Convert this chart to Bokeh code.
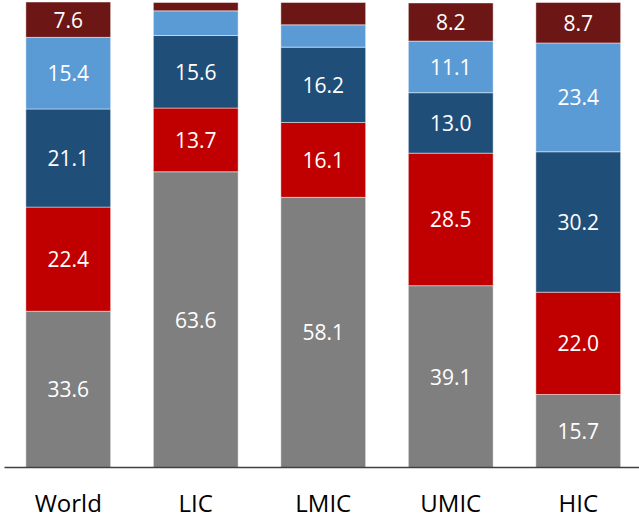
from bokeh.plotting import figure
from bokeh.models import ColumnDataSource, Range1d, FixedTicker, LabelSet
from bokeh.core.properties import value
from bokeh.embed import file_html
from bokeh.resources import INLINE

categories = ["World", "LIC", "LMIC", "UMIC", "HIC"]
seg1 = [33.6, 63.6, 58.1, 39.1, 15.7]   # gray
seg2 = [22.4, 13.7, 16.1, 28.5, 22.0]   # red
seg3 = [21.1, 15.6, 16.2, 13.0, 30.2]   # dark blue
seg4 = [15.4, 5.3, 4.8, 11.1, 23.4]     # light blue
seg5 = [7.6, 1.8, 4.8, 8.2, 8.7]        # dark red
colors = ["#7F7F7F", "#C00000", "#1F4E79", "#5B9BD5", "#6D1616"]
names = ["s1", "s2", "s3", "s4", "s5"]
series = [seg1, seg2, seg3, seg4, seg5]

xs = list(range(len(categories)))
data = {"x": xs}
for n, s in zip(names, series):
    data[n] = s
source = ColumnDataSource(data)

p = figure(width=639, height=524, output_backend="svg", toolbar_location=None,
           x_range=Range1d(-0.5, 4.4804), y_range=Range1d(0, 100.43),
           min_border_left=4, min_border_right=0, min_border_top=0, min_border_bottom=57)
p.vbar_stack(names, x="x", width=0.665, color=colors, source=source,
             line_color="white", line_alpha=0.45, line_width=1)

# labels
lx, ly, lt = [], [], []
for i in xs:
    base = 0.0
    for s in series:
        v = s[i]
        if v >= 6:
            lx.append(i)
            ly.append(base + v / 2)
            lt.append(f"{v:.1f}")
        base += v
lsrc = ColumnDataSource({"x": lx, "y": ly, "t": lt})
p.add_layout(LabelSet(x="x", y="y", text="t", source=lsrc, text_color="white",
                      text_font=value("Open Sans"), text_font_size="21px",
                      text_align="center", text_baseline="middle"))

p.yaxis.visible = False
p.grid.visible = False
p.outline_line_color = None
p.background_fill_color = "white"
p.border_fill_color = "white"

ax = p.xaxis[0]
ax.ticker = FixedTicker(ticks=xs)
ax.major_label_overrides = {i: c for i, c in zip(xs, categories)}
ax.major_tick_line_color = None
ax.minor_tick_line_color = None
ax.axis_line_color = "#404040"
ax.axis_line_width = 1.5
ax.major_label_text_font = "Open Sans"
ax.major_label_text_font_size = "24px"
ax.major_label_text_color = "black"
ax.major_label_standoff = 12

open("out.html", "w").write(file_html(p, INLINE))
